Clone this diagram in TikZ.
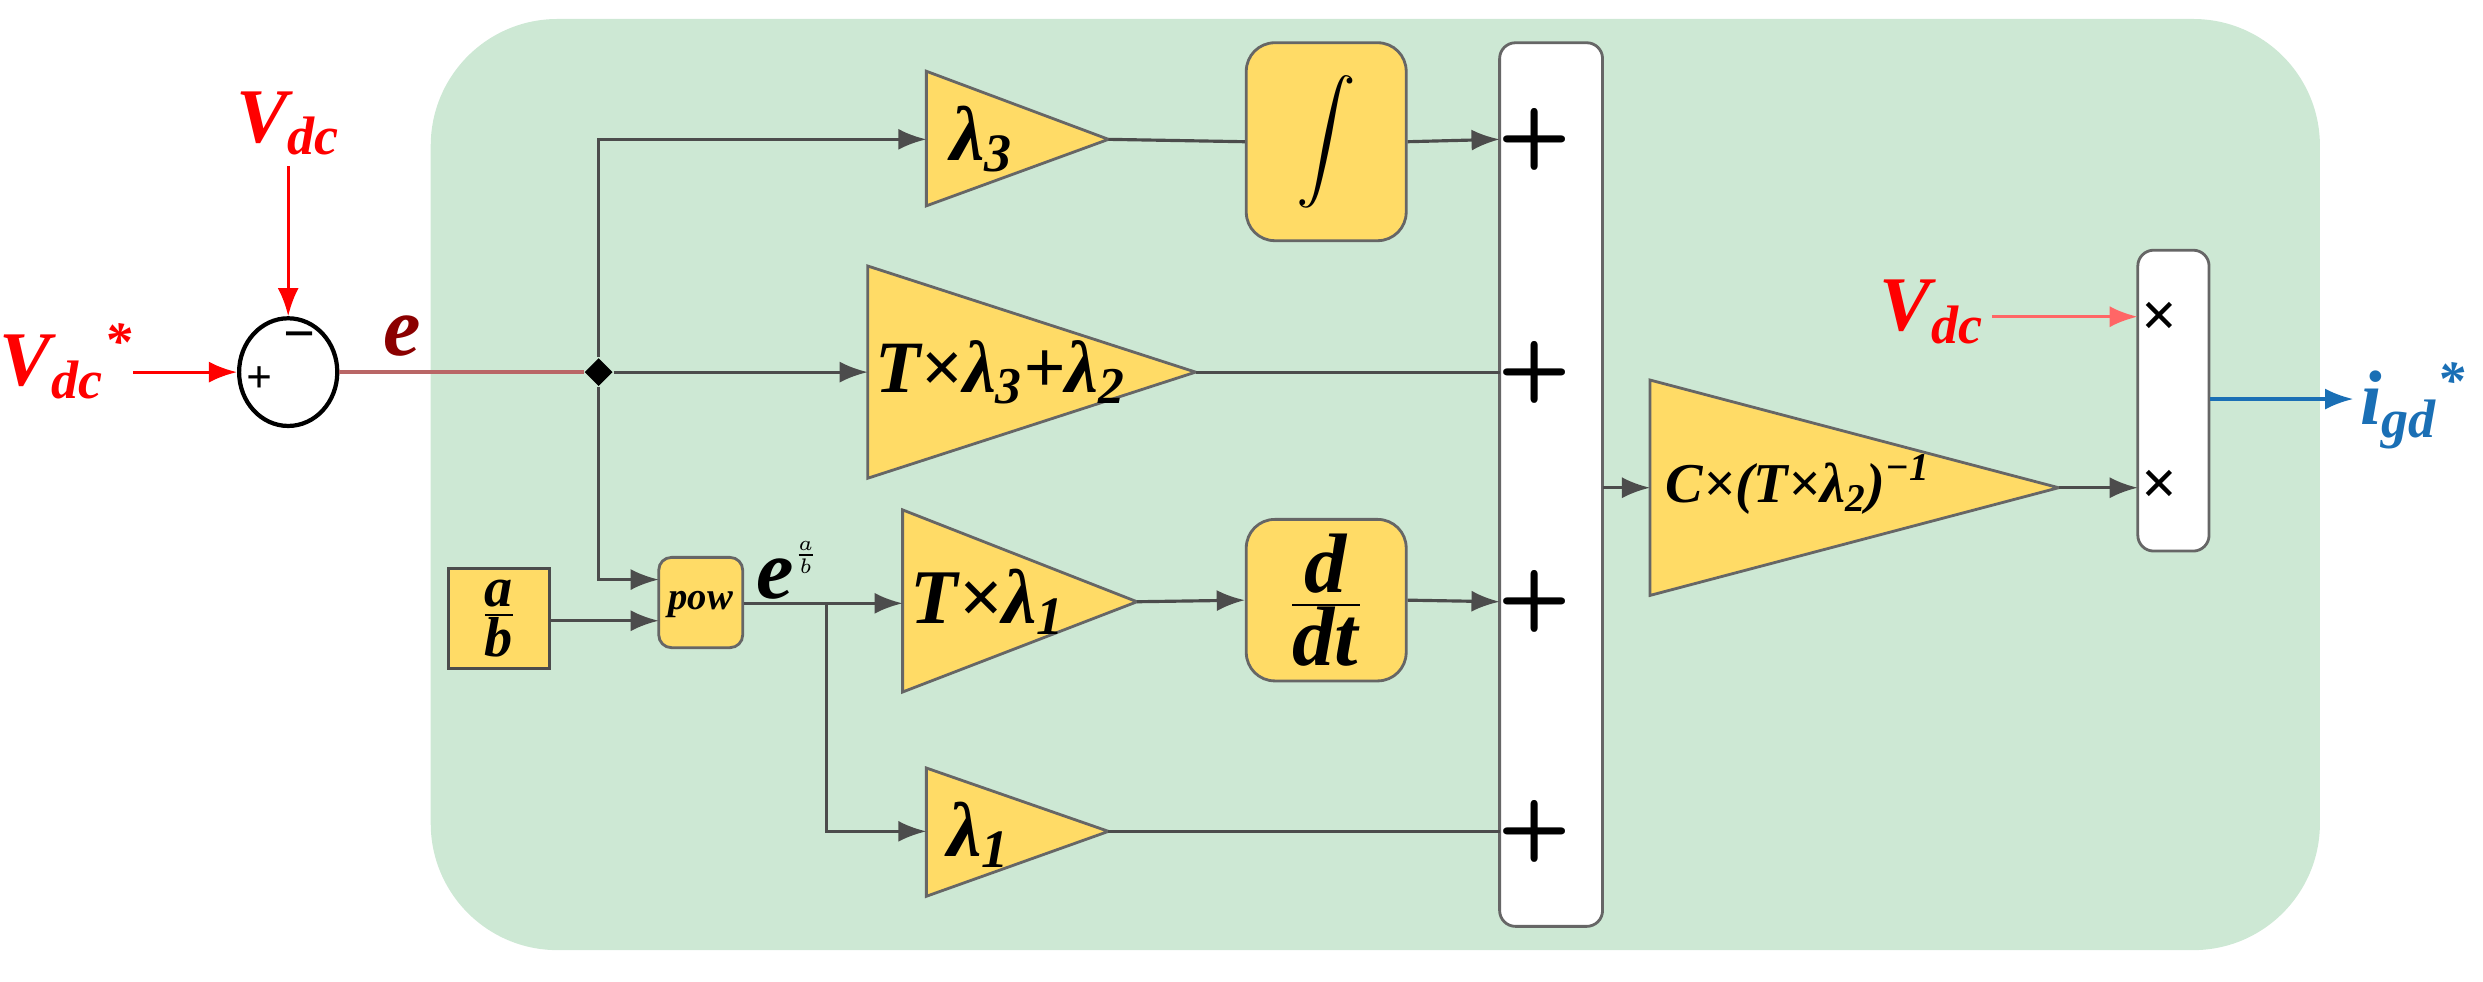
\documentclass[tikz,border=0pt]{standalone}
\usepackage{fontspec}
\setmainfont{Liberation Serif}
\usetikzlibrary{arrows.meta,shapes.geometric}
\definecolor{bg}{HTML}{CDE8D4}
\definecolor{yel}{HTML}{FFDB66}
\definecolor{dred}{HTML}{8B0000}
\definecolor{blu}{HTML}{1A6FB5}
\newlength\uu \setlength\uu{0.15835mm}
\tikzset{
  x=\uu,y=-\uu,
  lbl/.style={font=\fontsize{22}{24}\selectfont\bfseries\itshape},
  sig/.style={draw=black!70,line width=0.9pt,-{Latex[length=8pt,width=6pt]}},
  wire/.style={draw=black!70,line width=0.9pt},
  tri/.style={fill=yel,draw=black!60,line width=0.8pt},
  blk/.style={fill=yel,draw=black!60,line width=0.8pt,rounded corners=18\uu,inner sep=0},
  wbox/.style={fill=white,draw=black!60,line width=0.8pt,rounded corners=10\uu,inner sep=0},
  sym/.style={font=\fontsize{24}{24}\selectfont\bfseries\sffamily},
}
\begin{document}
\begin{tikzpicture}
\useasboundingbox (0,0) rectangle (1568,620);
\fill[bg,rounded corners=80\uu] (272,12) rectangle (1465,600);
% sum circle
\node[draw,ellipse,line width=1.2pt,minimum width=62\uu,minimum height=68\uu,inner sep=0] (sum) at (182,235) {};
\node[font=\fontsize{16}{16}\selectfont\bfseries] (mn) at (189,216) {−};
\node[font=\fontsize{13}{13}\selectfont\bfseries] (pl) at (164,240) {+};
\node[lbl,text=red] (vdc1) at (182,78) {V\textsubscript{dc}};
\node[lbl,text=red] (vdcs) at (42,228) {V\textsubscript{dc}\textsuperscript{*}};
\coordinate (vdc1s) at (182,105);
\coordinate (vdcss) at (84,235);
\draw[red,line width=0.9pt,-{Latex[length=8pt,width=6pt]}] (vdc1s) -- (sum.north);
\draw[red,line width=0.9pt,-{Latex[length=8pt,width=6pt]}] (vdcss) -- (sum.west);
\node[text=dred,font=\fontsize{24}{24}\selectfont\bfseries\itshape] (elab) at (254,212) {e};
\node[fill=black,diamond,inner sep=0,minimum size=18\uu] (j) at (378,235) {};
\draw[dred!60,line width=1pt] (sum.east) -- (j);
% sum box
\node[wbox,minimum width=65\uu,minimum height=558\uu] (S) at (979.5,306) {};
\coordinate (s1) at (947,88);\coordinate (s2) at (947,235);\coordinate (s3) at (947,380);\coordinate (s4) at (947,525);
\foreach \y/\n in {88/p1,235/p2,380/p3,525/p4}{\node[sym] (\n) at (969,\y) {+};}
% lambda3
\draw[tri] (585,45) -- (700,88) -- (585,130) -- cycle;
\coordinate (t1i) at (585,88);\coordinate (t1o) at (700,88);
\node[lbl] (t1) at (620,88) {λ\textsubscript{3}};
\node[blk,minimum width=101\uu,minimum height=125\uu] (int) at (837.5,89.5) {};
\node (intg) at (837.5,89.5) {\scalebox{1.7}{$\displaystyle\int$}};
\draw[sig] (j) |- (t1i);
\draw[wire] (t1o) -- (int.west);
\draw[sig] (int.east) -- (s1);
% T l3 + l2
\draw[tri] (548,168) -- (755,235) -- (548,302) -- cycle;
\coordinate (t2i) at (548,235);\coordinate (t2o) at (755,235);
\node[lbl,font=\fontsize{21}{22}\selectfont\bfseries\itshape] (t2) at (632,235) {T×λ\textsubscript{3}+λ\textsubscript{2}};
\draw[sig] (j) -- (t2i);
\draw[wire] (t2o) -- (s2);
% pow
\node[blk,rounded corners=8\uu,minimum width=53\uu,minimum height=57\uu] (pow) at (442.5,380.5) {};
\node[font=\fontsize{11}{11}\selectfont\bfseries\itshape] (powt) at (442.5,382) {pow};
\node[fill=yel,draw=black!70,line width=0.8pt,minimum width=64\uu,minimum height=63\uu,inner sep=0] (ab) at (315,390.5) {};
\node[font=\fontsize{16}{16}\selectfont] (abt) at (315,390.5) {$\frac{\textbf{\textit{a}}}{\textbf{\textit{b}}}$};
\coordinate (pi1) at (416,366);\coordinate (pi2) at (416,392);
\draw[sig] (j) |- (pi1);
\draw[sig] (ab.east |- pi2) -- (pi2);
\node[font=\fontsize{24}{24}\selectfont\bfseries\itshape] (eab) at (497,360) {e\raisebox{10pt}{\fontsize{9}{9}\selectfont$\frac{a}{b}$}};
\coordinate (br) at (522,381);
% T l1
\draw[tri] (570,322) -- (718,380) -- (570,437) -- cycle;
\coordinate (t3i) at (570,381);\coordinate (t3o) at (718,380);
\node[lbl] (t3) at (624,380) {T×λ\textsubscript{1}};
\draw[sig] (pow.east |- br) -- (t3i);
\node[blk,minimum width=101\uu,minimum height=102\uu] (dd) at (837.5,379) {};
\node[font=\fontsize{24}{26}\selectfont] (ddt) at (837.5,379) {$\frac{\textbf{\textit{d}}}{\textbf{\textit{dt}}}$};
\draw[sig] (t3o) -- (dd.west);
\draw[sig] (dd.east) -- (s3);
% l1
\draw[tri] (585,485) -- (700,525) -- (585,566) -- cycle;
\coordinate (t4i) at (585,525);\coordinate (t4o) at (700,525);
\node[lbl] (t4) at (618,527) {λ\textsubscript{1}};
\draw[sig] (br) |- (t4i);
\draw[wire] (t4o) -- (s4);
% big gain
\draw[tri] (1042,240) -- (1300,308) -- (1042,376) -- cycle;
\coordinate (t5i) at (1042,308);\coordinate (t5o) at (1300,308);
\coordinate (so) at (1012,308);
\node[font=\fontsize{16}{18}\selectfont\bfseries\itshape,anchor=west] (t5) at (1044,306) {C×(T×λ\textsubscript{2})\textsuperscript{−1}};
\draw[sig] (so) -- (t5i);
% mult box
\node[wbox,minimum width=45\uu,minimum height=190\uu] (M) at (1372.5,253) {};
\coordinate (m1) at (1350,200);\coordinate (m2) at (1350,308);
\node[font=\fontsize{18}{18}\selectfont\bfseries] (x1) at (1364,202) {\textbf{×}};
\node[font=\fontsize{18}{18}\selectfont\bfseries] (x2) at (1364,308) {\textbf{×}};
\draw[sig] (t5o) -- (m2);
\node[lbl,text=red] (vdc2) at (1220,197) {V\textsubscript{dc}};
\coordinate (vdc2s) at (1258,200);
\draw[red!60,line width=1pt,-{Latex[length=8pt,width=6pt]}] (vdc2s) -- (m1);
\coordinate (oute) at (1486,252);
\draw[blu,line width=0.9pt,-{Latex[length=8pt,width=6pt]}] (M.east |- oute) -- (oute);
\node[lbl,text=blu] (ig) at (1524,256) {i\textsubscript{gd}\textsuperscript{*}};
\end{tikzpicture}
\end{document}
